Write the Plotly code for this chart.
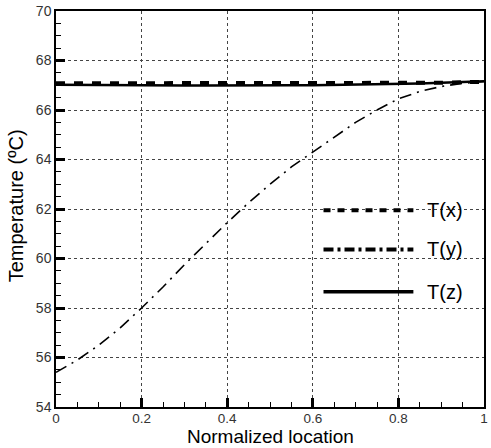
import plotly.graph_objects as go

x_loc = [0.0, 0.05, 0.1, 0.15, 0.2, 0.25, 0.3, 0.35, 0.4, 0.45, 0.5,
         0.55, 0.6, 0.65, 0.7, 0.75, 0.8, 0.85, 0.9, 0.95, 1.0]
t_x = [67.08, 67.08, 67.08, 67.07, 67.07, 67.07, 67.06, 67.06, 67.06, 67.06, 67.06,
       67.06, 67.06, 67.06, 67.06, 67.07, 67.08, 67.09, 67.1, 67.12, 67.14]
t_y = [55.4, 55.9, 56.5, 57.2, 58.0, 58.85, 59.75, 60.6, 61.45, 62.25, 63.0,
       63.7, 64.3, 64.9, 65.5, 66.0, 66.45, 66.75, 66.95, 67.08, 67.15]
t_z = [67.02, 67.01, 67.0, 67.0, 66.99, 66.99, 66.99, 66.99, 67.0, 67.0, 67.0,
       67.0, 67.0, 67.01, 67.02, 67.03, 67.05, 67.07, 67.1, 67.13, 67.16]
names = ["T(x)", "T(y)", "T(z)"]
x_title = "Normalized location"
y_title = "Temperature (ºC)"

FONT = "Liberation Sans, Arial, sans-serif"
fig = go.Figure()
fig.add_trace(go.Scatter(x=x_loc, y=t_z, mode="lines", name=names[2],
                         line=dict(color="black", width=2.5)))
fig.add_trace(go.Scatter(x=x_loc, y=t_x, mode="lines", name=names[0],
                         line=dict(color="black", width=4, dash="9px,9px")))
fig.add_trace(go.Scatter(x=x_loc, y=t_y, mode="lines", name=names[1],
                         line=dict(color="black", width=1.6, dash="12px,6px,2px,6px")))

# custom legend (long line samples)
leg_rows = [(names[0], "7px,7px", 4), (names[1], "10px,4px,3px,4px", 4), (names[2], "solid", 3.5)]
ys = [0.497, 0.398, 0.291]
for (nm, dsh, w), yy in zip(leg_rows, ys):
    fig.add_shape(type="line", xref="paper", yref="paper", x0=0.625, x1=0.835, y0=yy, y1=yy,
                  line=dict(color="black", width=w, dash=dsh))
    fig.add_annotation(xref="paper", yref="paper", x=0.862, y=yy, text=nm, showarrow=False,
                       xanchor="left", yanchor="middle", font=dict(family=FONT, size=20, color="black"))

# axis titles
fig.add_annotation(xref="paper", yref="paper", x=0.5, y=-0.0735, text=x_title, showarrow=False,
                   xanchor="center", yanchor="middle", font=dict(family=FONT, size=19, color="black"))
fig.add_annotation(xref="paper", yref="paper", x=-0.0926, y=0.5076, text=y_title, showarrow=False,
                   textangle=-90, xanchor="center", yanchor="middle",
                   font=dict(family=FONT, size=20, color="black"))

axis_common = dict(showline=True, linecolor="black", linewidth=1.5, mirror=True,
                   ticks="inside", ticklen=9, tickwidth=2.5, tickcolor="black",
                   showgrid=True, gridcolor="#444", gridwidth=1, griddash="3px,3px",
                   zeroline=False)

fig.update_xaxes(range=[0, 1], tickvals=[0, 0.2, 0.4, 0.6, 0.8, 1],
                 ticktext=["0", "0.2", "0.4", "0.6", "0.8", "1"],
                 tickfont=dict(family=FONT, size=13.5, color="#333"), ticklabelstandoff=-2,
                 minor=dict(dtick=0.05, ticks="inside", ticklen=5, tickwidth=1, tickcolor="black", showgrid=False),
                 **axis_common)
fig.update_yaxes(range=[54, 70], dtick=2, tickfont=dict(family=FONT, size=14, color="#333"),
                 minor=dict(dtick=0.5, ticks="inside", ticklen=5, tickwidth=1, tickcolor="black", showgrid=False),
                 **axis_common)

fig.update_layout(width=491, height=448, margin=dict(l=56, r=3, t=11, b=41),
                  plot_bgcolor="white", paper_bgcolor="white", showlegend=False)
fig.write_html("out.html")
